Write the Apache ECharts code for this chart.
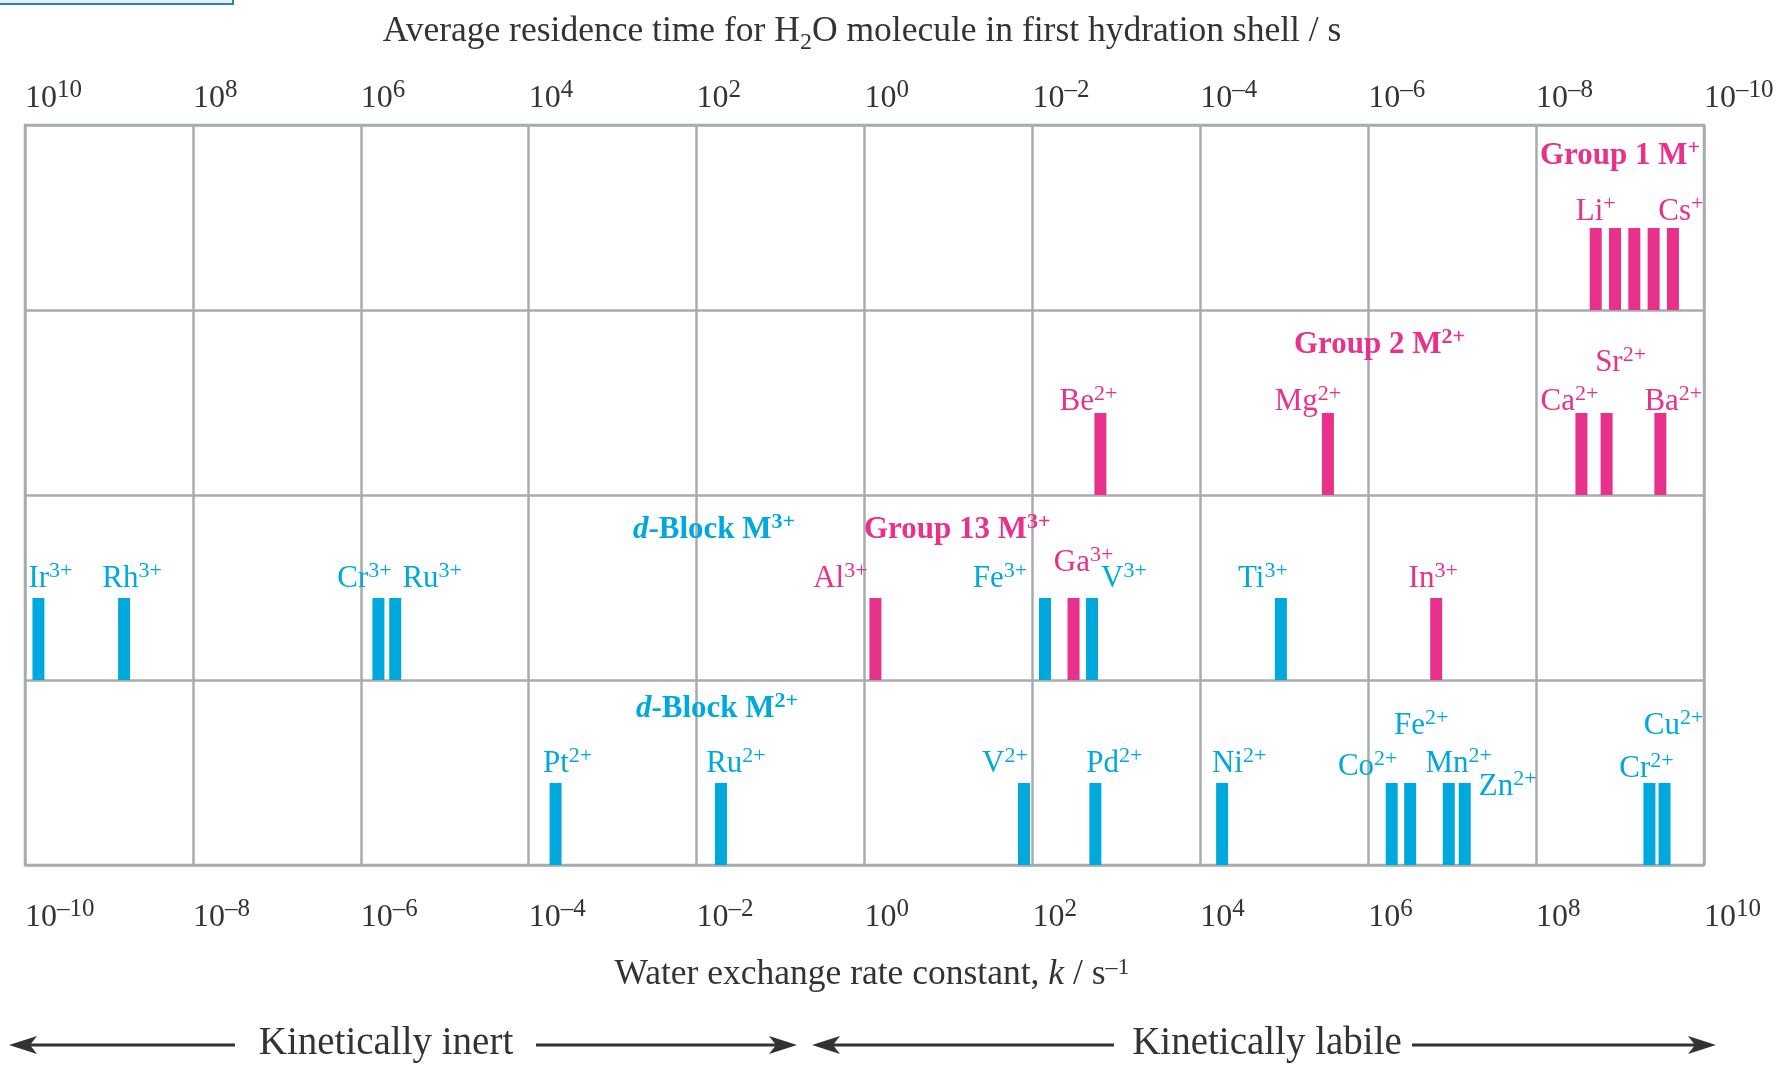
<!DOCTYPE html>
<html><head><meta charset="utf-8">
<script src="https://cdn.jsdelivr.net/npm/echarts@6/dist/echarts.min.js"></script>
<style>html,body{margin:0;padding:0;background:#fff}#c{width:1781px;height:1065px}</style>
</head><body><div id="c"></div>
<script>
// ---------------- data ----------------
const xTicks = [-10, -8, -6, -4, -2, 0, 2, 4, 6, 8, 10]; // log10(k / s^-1)
// rows (bottom -> top): 0 = d-block M2+, 1 = M3+, 2 = Group 2 M2+, 3 = Group 1 M+
const group1Ions = ['Li', 'Na', 'K', 'Rb', 'Cs'];
const group1LogK = [8.71, 8.94, 9.17, 9.40, 9.63];
const group1Labelled = ['Li', 'Cs'];
const group2Ions = ['Be', 'Mg', 'Ca', 'Sr', 'Ba'];
const group2LogK = [2.81, 5.52, 8.54, 8.84, 9.48];
const dBlock3Ions = ['Ir', 'Rh', 'Cr', 'Ru', 'Fe', 'V', 'Ti'];
const dBlock3LogK = [-9.84, -8.82, -5.79, -5.59, 2.15, 2.71, 4.96];
const group13Ions = ['Al', 'Ga', 'In'];
const group13LogK = [0.13, 2.49, 6.81];
const dBlock2Ions = ['Pt', 'Ru', 'V', 'Pd', 'Ni', 'Co', 'Fe', 'Mn', 'Zn', 'Cr', 'Cu'];
const dBlock2LogK = [-3.68, -1.71, 1.90, 2.75, 4.26, 6.28, 6.50, 6.96, 7.15, 9.35, 9.53];

// ---------------- styles / layout ----------------
const FONT = '"Liberation Serif","Times New Roman",serif';
const PINK = '#e8318a', CYAN = '#00a9dd', INK = '#333333', GRIDC = '#a9acaf';
const BAR_FRAC = 0.443, BAR_W = 12;
const LABEL_GAP = [19, 19, 11, 16]; // per row, px above bar top
const labelShift = {
  'g1:Cs': [8, 0],
  'g2:Be': [-12, 0], 'g2:Mg': [-20, 0], 'g2:Ca': [-12, 0], 'g2:Sr': [14, -39], 'g2:Ba': [13, 0],
  'd3:Ir': [12, 0], 'd3:Rh': [8, 0], 'd3:Cr': [-14, 0], 'd3:Ru': [37, 0], 'd3:Fe': [-45, 0], 'd3:V': [32, 0], 'd3:Ti': [-18, 0],
  'g13:Al': [-35, 0], 'g13:Ga': [10, -16], 'g13:In': [-3, 0],
  'd2:Pt': [12, 0], 'd2:Ru': [15, 0], 'd2:V': [-19, 0], 'd2:Pd': [19, 0], 'd2:Ni': [17, 0], 'd2:Co': [-24, 3],
  'd2:Fe': [11, -38], 'd2:Mn': [10, 0], 'd2:Zn': [43, 23], 'd2:Cr': [-3, 5], 'd2:Cu': [9, -38]
};

function build(prefix, ions, logk, row, charge, labelled) {
  return ions.map((s, i) => ({ key: prefix + ':' + s, sym: s, x: logk[i], row: row, charge: charge,
    label: labelled ? labelled.indexOf(s) >= 0 : true }));
}
const pinkItems = [].concat(
  build('g1', group1Ions, group1LogK, 3, '+', group1Labelled),
  build('g2', group2Ions, group2LogK, 2, '2+'),
  build('g13', group13Ions, group13LogK, 1, '3+'));
const cyanItems = [].concat(
  build('d3', dBlock3Ions, dBlock3LogK, 1, '3+'),
  build('d2', dBlock2Ions, dBlock2LogK, 0, '2+'));

function supRich(base, sup, color, colorKey, extra) {
  const b = Object.assign({ fontSize: base, fontFamily: FONT, verticalAlign: 'bottom', lineHeight: base }, extra || {});
  const s = Object.assign({ fontSize: sup, fontFamily: FONT, verticalAlign: 'bottom', lineHeight: sup, padding: [0, 0, Math.round(base * 0.38), 0] }, extra || {});
  b[colorKey] = color; s[colorKey] = color;
  return { b: b, s: s };
}

function ionSeries(items, color) {
  const rich = supRich(31, 22, color, 'fill');
  return {
    type: 'custom', silent: true, clip: false, z: 5,
    data: items.map(it => [it.x, it.row]),
    renderItem: function (params, api) {
      const it = items[params.dataIndex];
      const b = api.coord([api.value(0), api.value(1)]);
      const t = api.coord([api.value(0), api.value(1) + BAR_FRAC]);
      const kids = [{ type: 'rect', shape: { x: b[0] - BAR_W / 2, y: t[1], width: BAR_W, height: b[1] - t[1] }, style: { fill: color } }];
      if (it.label) {
        const s = labelShift[it.key] || [0, 0];
        kids.push({ type: 'text', x: b[0] + s[0], y: t[1] - LABEL_GAP[it.row] + s[1],
          style: { text: '{b|' + it.sym + '}{s|' + it.charge + '}', align: 'center', verticalAlign: 'middle', rich: rich } });
      }
      return { type: 'group', children: kids };
    }
  };
}

function pow10(e) { return '{b|10}{s|' + (e < 0 ? '\u2013' + (-e) : e) + '}'; }
const tickRich = supRich(32, 25, INK, 'color');

const chart = echarts.init(document.getElementById('c'), null, { renderer: 'canvas' });
function groupTitleRich(c) {
  const r = supRich(31, 22, c, 'fill', { fontWeight: 'bold' });
  r.i = Object.assign({}, r.b, { fontStyle: 'italic' });
  return r;
}
function gText(x, y, text, rich, align) {
  return { type: 'text', x: x, y: y, z: 10, style: { text: text, rich: rich, align: align || 'left', verticalAlign: 'middle' } };
}
function arrowHead(tip, y, dir) {
  return { type: 'polygon', z: 10, shape: { points: [[tip, y], [tip - dir * 28, y - 9], [tip - dir * 21, y], [tip - dir * 28, y + 9]] }, style: { fill: INK } };
}
function hLine(x1, x2, y) {
  return { type: 'line', z: 10, shape: { x1: x1, y1: y, x2: x2, y2: y }, style: { stroke: INK, lineWidth: 3 } };
}
const titleRich = {
  t: { fontSize: 35.5, fontFamily: FONT, fill: INK, verticalAlign: 'top', lineHeight: 36 },
  sub: { fontSize: 24, fontFamily: FONT, fill: INK, verticalAlign: 'top', lineHeight: 24, padding: [17, 0, 0, 0] }
};
const titleRich2 = supRich(35.5, 24, INK, 'fill');
titleRich2.i = Object.assign({}, titleRich2.b, { fontStyle: 'italic' });
const AY = 1045;
const kinRich = { k: { fontSize: 39, fontFamily: FONT, fill: INK } };

chart.setOption({
  animation: false,
  backgroundColor: '#ffffff',
  grid: { left: 25, right: 77, top: 125, bottom: 200, show: true, borderColor: GRIDC, borderWidth: 2.5, outerBoundsMode: 'none' },
  xAxis: [
    { type: 'value', position: 'bottom', min: -10, max: 10, interval: 2,
      axisLine: { show: false }, axisTick: { show: false },
      splitLine: { show: true, lineStyle: { color: GRIDC, width: 2.5 } },
      axisLabel: { show: true, align: 'left', margin: 37, showMinLabel: true, showMaxLabel: true, hideOverlap: false,
        formatter: v => pow10(v), rich: tickRich } },
    { type: 'value', position: 'top', min: -10, max: 10, interval: 2,
      axisLine: { show: false }, axisTick: { show: false }, splitLine: { show: false },
      axisLabel: { show: true, align: 'left', margin: 10, showMinLabel: true, showMaxLabel: true, hideOverlap: false,
        formatter: v => pow10(-v), rich: tickRich } }
  ],
  yAxis: { type: 'value', min: 0, max: 4, interval: 1, axisLine: { show: false }, axisTick: { show: false },
    axisLabel: { show: false }, splitLine: { show: true, lineStyle: { color: GRIDC, width: 2.5 } } },
  series: [ionSeries(cyanItems, CYAN), ionSeries(pinkItems, PINK)],
  graphic: [
    { type: 'rect', z: 10, shape: { x: -3, y: -12, width: 236, height: 16 }, style: { fill: '#e7eef4', stroke: '#2f80c0', lineWidth: 2 } },
    gText(862, 32, '{t|Average residence time for H}{sub|2}{t|O molecule in first hydration shell / s}', titleRich, 'center'),
    gText(872, 975, '{b|Water exchange rate constant, }{i|k}{b| / s}{s|\u20131}', titleRich2, 'center'),
    gText(1540, 156, '{b|Group 1 M}{s|+}', groupTitleRich(PINK)),
    gText(1294, 345, '{b|Group 2 M}{s|2+}', groupTitleRich(PINK)),
    gText(633, 530, '{i|d}{b|-Block M}{s|3+}', groupTitleRich(CYAN)),
    gText(864, 530, '{b|Group 13 M}{s|3+}', groupTitleRich(PINK)),
    gText(636, 709, '{i|d}{b|-Block M}{s|2+}', groupTitleRich(CYAN)),
    hLine(14, 235, AY), arrowHead(9, AY, -1), hLine(536, 790, AY), arrowHead(797, AY, 1),
    gText(386, AY - 1, '{k|Kinetically inert}', kinRich, 'center'),
    hLine(818, 1114, AY), arrowHead(812, AY, -1), hLine(1412, 1710, AY), arrowHead(1716, AY, 1),
    gText(1267, AY - 1, '{k|Kinetically labile}', kinRich, 'center')
  ]
});
</script></body></html>
